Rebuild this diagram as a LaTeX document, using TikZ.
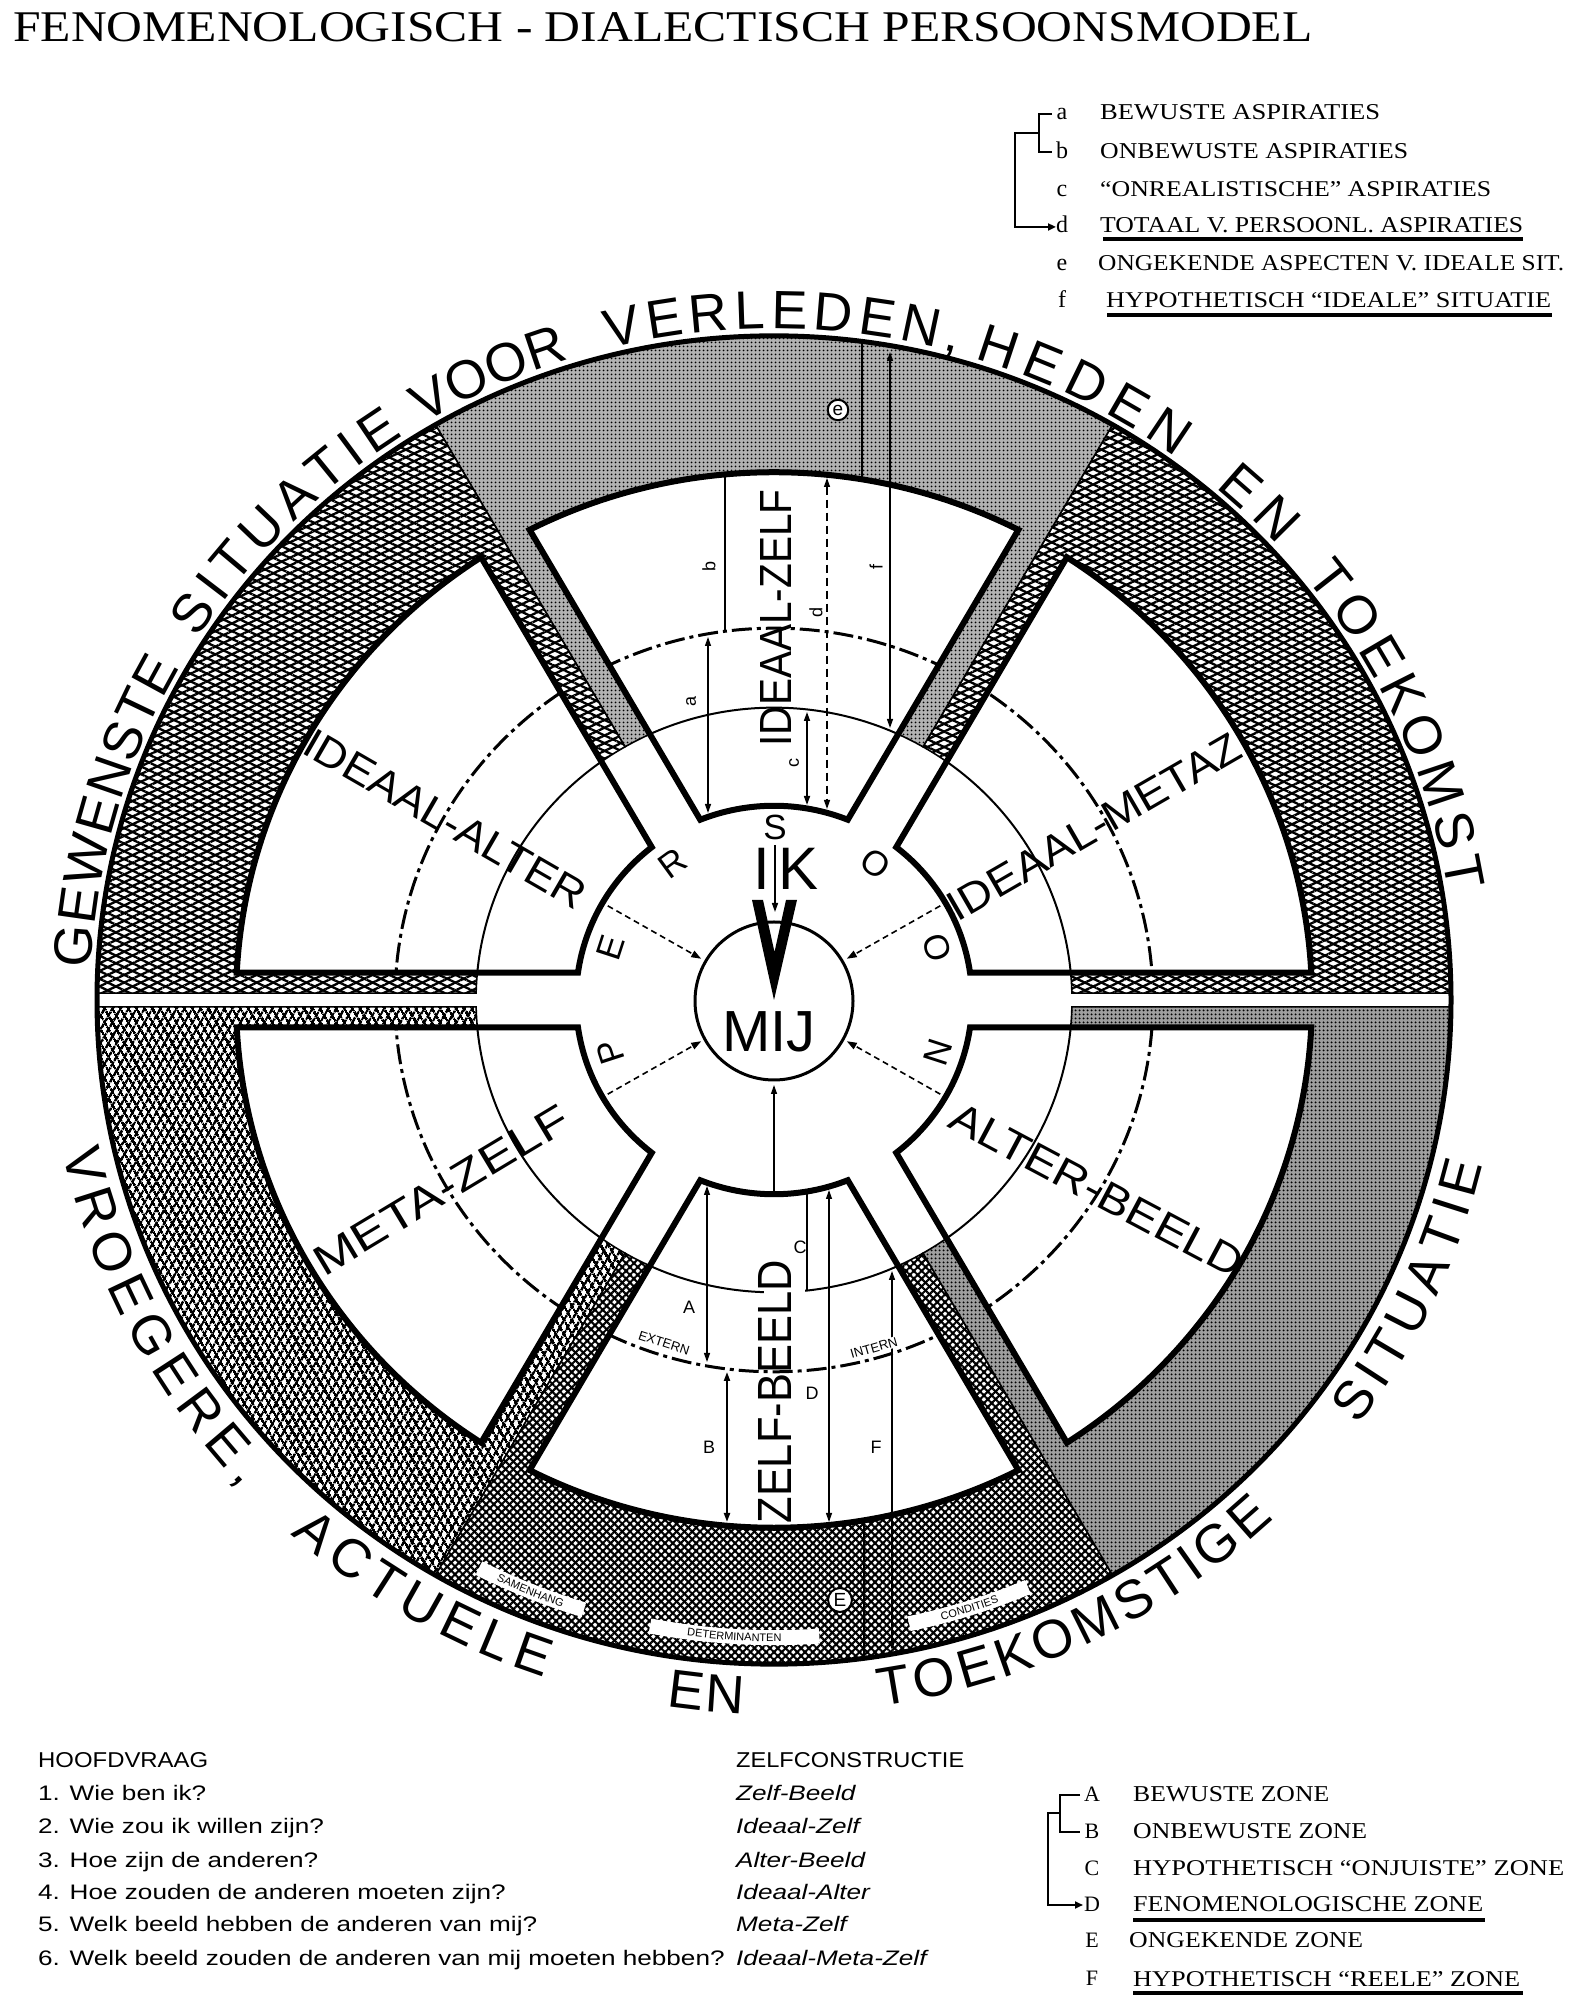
\documentclass[tikz,border=0pt]{standalone}
\usepackage{fontspec}
\usepackage{graphicx}
\setmainfont{Liberation Serif}
\setsansfont{Liberation Sans}
\usetikzlibrary{patterns.meta,decorations.text,arrows.meta}

\newcommand\Rout{677}
\newcommand\Rring{538}
\newcommand\Rdash{379}
\newcommand\Rthin{298}
\newcommand\Rhub{198}
\newcommand\Dw{28}
\newcommand\arcfont{\sffamily\fontsize{54}{54}\selectfont}
\newcommand\tinyfont{\sffamily\fontsize{11}{11}\selectfont}

\tikzset{
 ptop/.style={fill=black!30, postaction={pattern={Dots[distance=4pt,radius=1.2pt]}}},
 plr/.style={fill=black!38, postaction={pattern={Dots[distance=4pt,radius=1.3pt]}}},
 pul/.style={fill=white, postaction={pattern={Lines[angle=25,distance=7pt,line width=2.3pt]}}, postaction={pattern={Lines[angle=-25,distance=7pt,line width=2.3pt]}}},
 pll/.style={fill=white, postaction={pattern={Lines[angle=60,distance=6.5pt,line width=2.7pt]}}, postaction={pattern={Lines[angle=-60,distance=6.5pt,line width=2.7pt]}}},
 pbot/.style={fill=white, postaction={pattern={Lines[angle=45,distance=5.5pt,line width=2.1pt]}}, postaction={pattern={Lines[angle=-45,distance=5.5pt,line width=2.1pt]}}},
 thinarc/.style={line width=2},
 dasharc/.style={line width=3, dash pattern=on 20pt off 5pt on 4pt off 5pt},
 tip/.style={-{Triangle[length=9pt,width=6pt]}},
 tips/.style={{Triangle[length=9pt,width=6pt]}-{Triangle[length=9pt,width=6pt]}},
 mijarr/.style={line width=1.6, dash pattern=on 6pt off 4pt, -{Triangle[length=10pt,width=7pt]}},
 lbl/.style={inner sep=0},
 ring/.style={circle, draw, fill=white, line width=2, inner sep=2pt, font=\sffamily\fontsize{19}{19}\selectfont},
 strip/.style={white, line width=15},
}

\newcommand\seg[5]{%
 \pgfmathsetmacro\sgA{#1+asin(#3/\Rthin)}%
 \pgfmathsetmacro\sgAo{#1+asin(#3/\Rout)}%
 \pgfmathsetmacro\sgB{#2-asin(#4/\Rthin)}%
 \pgfmathsetmacro\sgBo{#2-asin(#4/\Rout)}%
 \path[#5] (\sgA:\Rthin) -- (\sgAo:\Rout) arc[start angle=\sgAo,end angle=\sgBo,radius=\Rout] -- (\sgB:\Rthin) arc[start angle=\sgB,end angle=\sgA,radius=\Rthin] -- cycle;
 \draw[line width=1.6] (\sgA:\Rthin) -- (\sgAo:\Rout) arc[start angle=\sgAo,end angle=\sgBo,radius=\Rout] -- (\sgB:\Rthin) arc[start angle=\sgB,end angle=\sgA,radius=\Rthin] -- cycle;
}
\newcommand\arcword[4]{%
 \path[decorate, decoration={text along path, text align={fit to path}, text={|\arcfont|#4}}] (#1:#3) arc[start angle=#1, end angle=#2, radius=#3];}
\newcommand\leg[4]{\node[lbl,anchor=base west] at (#1,{2006-#2}) {\resizebox{#3pt}{15pt}{#4}};}
\newcommand\tabrow[3]{\node[lbl,anchor=base west] at (#1,{2006-#2}) {\scalebox{1.245}[1]{\sffamily\fontsize{21}{21}\selectfont #3}};}

\begin{document}
\begin{tikzpicture}[x=1pt,y=1pt]
\useasboundingbox (0,0) rectangle (1569,2006);
\fill[white] (0,0) rectangle (1569,2006);

% ---------------- wheel ----------------
\begin{scope}[shift={(774,1006)},yscale=0.981]
 \seg{0}{60}{7}{0}{pul}
 \seg{60}{120}{0}{0}{ptop}
 \seg{120}{180}{0}{7}{pul}
 \seg{180}{240}{7}{0}{pll}
 \seg{240}{300}{0}{0}{pbot}
 \seg{300}{360}{0}{7}{plr}
 % small white labels in the lower ring
 \draw[strip] (243:650) arc[start angle=243,end angle=253,radius=650];
 \draw[strip] (259:650) arc[start angle=259,end angle=274,radius=650];
 \draw[strip] (282:650) arc[start angle=282,end angle=293,radius=650];
 \path[decorate, decoration={text along path, text align=center, text={|\tinyfont|SAMENHANG}}] (243:654) arc[start angle=243,end angle=253,radius=654];
 \path[decorate, decoration={text along path, text align=center, text={|\tinyfont|DETERMINANTEN}}] (259:654) arc[start angle=259,end angle=274,radius=654];
 \path[decorate, decoration={text along path, text align=center, text={|\tinyfont|CONDITIES}}] (282:654) arc[start angle=282,end angle=293,radius=654];
 \foreach \a in {0,60,120,180,240,300}{
  \pgfmathsetmacro\sAh{\a+asin(\Dw/\Rhub)}
  \pgfmathsetmacro\sAr{\a+asin(\Dw/\Rring)}
  \pgfmathsetmacro\sBh{\a+60-asin(\Dw/\Rhub)}
  \pgfmathsetmacro\sBr{\a+60-asin(\Dw/\Rring)}
  \def\secP{(\sAh:\Rhub) -- (\sAr:\Rring) arc[start angle=\sAr,end angle=\sBr,radius=\Rring] -- (\sBh:\Rhub) arc[start angle=\sBh,end angle=\sAh,radius=\Rhub] -- cycle}
  \fill[white] \secP;
  \begin{scope}
   \clip \secP;
   \draw[thinarc] (0,0) circle[radius=\Rthin];
   \draw[dasharc] (0,0) circle[radius=\Rdash];
  \end{scope}
  \draw[line width=6, line join=miter] \secP;
 }
 \draw[line width=5] (0,0) circle[radius=\Rout];
 % texts along the outer circle
 \arcword{177.3}{150.3}{684}{GEWENSTE}
 \arcword{147.4}{122.8}{684}{SITUATIE}
 \arcword{120.8}{107.4}{684}{VOOR}
 \arcword{104}{74.5}{684}{VERLEDEN,}
 \arcword{73}{54}{684}{HEDEN}
 \arcword{49.8}{42.6}{684}{EN}
 \arcword{39}{9.3}{684}{TOEKOMST}
 \arcword{192.3}{223}{728}{VROEGERE,}
 \arcword{228.4}{251.6}{728}{ACTUELE}
 \arcword{261.5}{267.6}{728}{EN}
 \arcword{278.4}{313.4}{728}{TOEKOMSTIGE}
 \arcword{323.4}{346.7}{728}{SITUATIE}
 % PERSOON
 \foreach \t/\l in {198/P,162/E,126/R,54/O,18/O,-18/N}{
  \node[lbl,rotate=\t-90,font=\sffamily\fontsize{35}{35}\selectfont] (p\t) at (\t:172) {\l};
 }
 \foreach \t in {30,150,210,330}{
  \coordinate (s\t) at (\t:192);
  \coordinate (e\t) at (\t:84);
  \draw[mijarr] (s\t) -- (e\t);
 }
\end{scope}

% break in the thin arc of the lower sector
\fill[white] (764,{2006-1302}) rectangle (805,{2006-1282});

% ---------------- centre ----------------
\node[circle,draw,line width=3,minimum size=158pt,inner sep=0] (mij) at (774,1005) {};
\node[lbl,anchor=base,font=\sffamily\fontsize{58}{58}\selectfont] (mijt) at (769,954) {MIJ};
\node[lbl,font=\sffamily\fontsize{35}{35}\selectfont] (S) at (775,{2006-827}) {S};
\node[lbl,anchor=base,font=\sffamily\fontsize{60}{60}\selectfont] (Ik1) at (762,1116) {I};
\node[lbl,anchor=base,font=\sffamily\fontsize{60}{60}\selectfont] (Ik2) at (799,1116) {K};
\coordinate (vtop) at (775,{2006-845});
\coordinate (vend) at (775,{2006-912});
\draw[line width=1.5,tip] (vtop) -- (vend);
\fill[black] (752,1106) -- (763,1106) -- (774.5,1054) -- (786,1106) -- (797,1106) -- (774,1006) -- cycle;
\coordinate (bstart) at (774,{2006-1191});
\coordinate (bend) at (774,{2006-1085});
\draw[line width=1.3,tip] (bstart) -- (bend);

% ---------------- sector labels ----------------
\node[lbl,rotate=90] (iz) at (776,{2006-618}) {\resizebox{257pt}{31pt}{\sffamily IDEAAL-ZELF}};
\node[lbl,rotate=90] (zb) at (775,{2006-1392}) {\resizebox{263pt}{33pt}{\sffamily ZELF-BEELD}};
\node[lbl,rotate=-30] (ia) at (445,{2006-819}) {\resizebox{318pt}{29pt}{\sffamily IDEAAL-ALTER}};
\node[lbl,rotate=30] (im) at (1094,{2006-827}) {\resizebox{332pt}{29pt}{\sffamily IDEAAL-METAZ}};
\node[lbl,rotate=31] (mz) at (441,{2006-1190}) {\resizebox{290pt}{29pt}{\sffamily META-ZELF}};
\node[lbl,rotate=-28] (ab) at (1097,{2006-1190}) {\resizebox{325pt}{29pt}{\sffamily ALTER-BEELD}};

% ---------------- measuring lines, top sector ----------------
\coordinate (e1) at (862,{2006-341}); \coordinate (e2) at (862,{2006-479});
\draw[line width=1.6] (e1) -- (e2);
\coordinate (f1) at (890,{2006-352}); \coordinate (f2) at (890,{2006-728});
\draw[line width=1.2,tips] (f1) -- (f2);
\coordinate (b1) at (724.5,{2006-477}); \coordinate (b2) at (724.5,{2006-631});
\draw[line width=2] (b1) -- (b2);
\coordinate (d1) at (827,{2006-478}); \coordinate (d2) at (827,{2006-809});
\draw[line width=1.3,dash pattern=on 8pt off 5pt,tips] (d1) -- (d2);
\coordinate (a1) at (708,{2006-637}); \coordinate (a2) at (708,{2006-813});
\draw[line width=1.2,tips] (a1) -- (a2);
\coordinate (c1) at (807,{2006-712}); \coordinate (c2) at (807,{2006-805});
\draw[line width=1.6,tips] (c1) -- (c2);
\node[ring] (ce) at (838,{2006-410}) {e};
\foreach \n/\x/\y in {b/709/567,d/816/613,f/876/567,a/691/702,c/794/763}{
 \node[lbl,rotate=90,font=\sffamily\fontsize{18}{18}\selectfont] (t\n) at (\x,{2006-\y}) {\n};
}

% ---------------- measuring lines, bottom sector ----------------
\coordinate (A1) at (707,{2006-1186}); \coordinate (A2) at (707,{2006-1362});
\draw[line width=1.2,tips] (A1) -- (A2);
\coordinate (C1) at (807,{2006-1194}); \coordinate (C2) at (807,{2006-1290});
\draw[line width=2] (C1) -- (C2);
\coordinate (B1) at (727,{2006-1372}); \coordinate (B2) at (727,{2006-1522});
\draw[line width=2,tips] (B1) -- (B2);
\coordinate (D1) at (829,{2006-1190}); \coordinate (D2) at (829,{2006-1522});
\draw[line width=1.2,tips] (D1) -- (D2);
\coordinate (F1) at (892,{2006-1271}); \coordinate (F2) at (892,{2006-1650});
\draw[line width=1.3,tips] (F1) -- (F2);
\coordinate (E1) at (864,{2006-1520}); \coordinate (E2) at (864,{2006-1658});
\draw[line width=2] (E1) -- (E2);
\node[ring] (cE) at (840,{2006-1600}) {E};
\foreach \n/\x/\y in {A/689/1307,C/800/1247,D/812/1393,B/709/1447,F/876/1447}{
 \node[lbl,font=\sffamily\fontsize{18}{18}\selectfont] (T\n) at (\x,{2006-\y}) {\n};
}
\node[lbl,rotate=-18,fill=white,inner sep=1pt,font=\sffamily\fontsize{13}{13}\selectfont] (ext) at (664,{2006-1343}) {EXTERN};
\node[lbl,rotate=16,fill=white,inner sep=1pt,font=\sffamily\fontsize{13}{13}\selectfont] (int) at (874,{2006-1348}) {INTERN};

% ---------------- title ----------------
\node[lbl,anchor=base west] (title) at (13,{2006-42}) {\resizebox{1299pt}{29pt}{FENOMENOLOGISCH - DIALECTISCH PERSOONSMODEL}};

% ---------------- legend top right ----------------
\foreach \l/\y in {a/120,b/158.5,c/196.5,d/232.5,e/271,f/308}{
 \node[lbl,anchor=base,font=\fontsize{24}{24}\selectfont] (L\l) at (1062,{2006-\y}) {\l};
}
\leg{1100}{120}{280}{BEWUSTE ASPIRATIES}
\leg{1100}{158.5}{308}{ONBEWUSTE ASPIRATIES}
\leg{1100}{196.5}{391}{``ONREALISTISCHE'' ASPIRATIES}
\leg{1100}{232.5}{423}{TOTAAL V. PERSOONL. ASPIRATIES}
\leg{1098}{271}{466}{ONGEKENDE ASPECTEN V. IDEALE SIT.}
\leg{1106}{308}{445}{HYPOTHETISCH ``IDEALE'' SITUATIE}
\draw[line width=4] (1103,{2006-239}) -- (1523,{2006-239});
\draw[line width=4] (1107,{2006-315}) -- (1552,{2006-315});
\draw[line width=2.5] (1052,{2006-114}) -- (1039,{2006-114}) -- (1039,{2006-152}) -- (1052,{2006-152});
\draw[line width=2.5,-{Triangle[length=8pt,width=7pt]}] (1039,{2006-133}) -- (1015,{2006-133}) -- (1015,{2006-227}) -- (1056,{2006-227});

% ---------------- legend bottom right ----------------
\foreach \l/\y in {A/1801.5,B/1838.5,C/1876,D/1911.5,E/1947.5,F/1986}{
 \node[lbl,anchor=base,font=\fontsize{22}{22}\selectfont] (M\l) at (1092,{2006-\y}) {\l};
}
\leg{1133}{1801.5}{196}{BEWUSTE ZONE}
\leg{1133}{1838.5}{234}{ONBEWUSTE ZONE}
\leg{1133}{1876}{431}{HYPOTHETISCH ``ONJUISTE'' ZONE}
\leg{1133}{1911.5}{350}{FENOMENOLOGISCHE ZONE}
\leg{1129}{1947.5}{234}{ONGEKENDE ZONE}
\leg{1133}{1986}{387}{HYPOTHETISCH ``REELE'' ZONE}
\draw[line width=4] (1133,{2006-1920}) -- (1485,{2006-1920});
\draw[line width=4] (1133,{2006-1993}) -- (1523,{2006-1993});
\draw[line width=2.5] (1080,{2006-1795}) -- (1060,{2006-1795}) -- (1060,{2006-1832}) -- (1080,{2006-1832});
\draw[line width=2.5,-{Triangle[length=8pt,width=7pt]}] (1060,{2006-1813}) -- (1048,{2006-1813}) -- (1048,{2006-1905}) -- (1083,{2006-1905});

% ---------------- table bottom left ----------------
\node[lbl,anchor=base west] (h1) at (38,{2006-1767.5}) {\resizebox{170pt}{15pt}{\sffamily HOOFDVRAAG}};
\node[lbl,anchor=base west] (h2) at (736,{2006-1767.5}) {\resizebox{228pt}{15pt}{\sffamily ZELFCONSTRUCTIE}};
\tabrow{38}{1800.5}{1. Wie ben ik?}
\tabrow{38}{1833.5}{2. Wie zou ik willen zijn?}
\tabrow{38}{1867.5}{3. Hoe zijn de anderen?}
\tabrow{38}{1899.5}{4. Hoe zouden de anderen moeten zijn?}
\tabrow{38}{1931.5}{5. Welk beeld hebben de anderen van mij?}
\tabrow{38}{1965.5}{6. Welk beeld zouden de anderen van mij moeten hebben?}
\tabrow{736}{1800.5}{\itshape Zelf-Beeld}
\tabrow{736}{1833.5}{\itshape Ideaal-Zelf}
\tabrow{736}{1867.5}{\itshape Alter-Beeld}
\tabrow{736}{1899.5}{\itshape Ideaal-Alter}
\tabrow{736}{1931.5}{\itshape Meta-Zelf}
\tabrow{736}{1965.5}{\itshape Ideaal-Meta-Zelf}
\end{tikzpicture}
\end{document}
